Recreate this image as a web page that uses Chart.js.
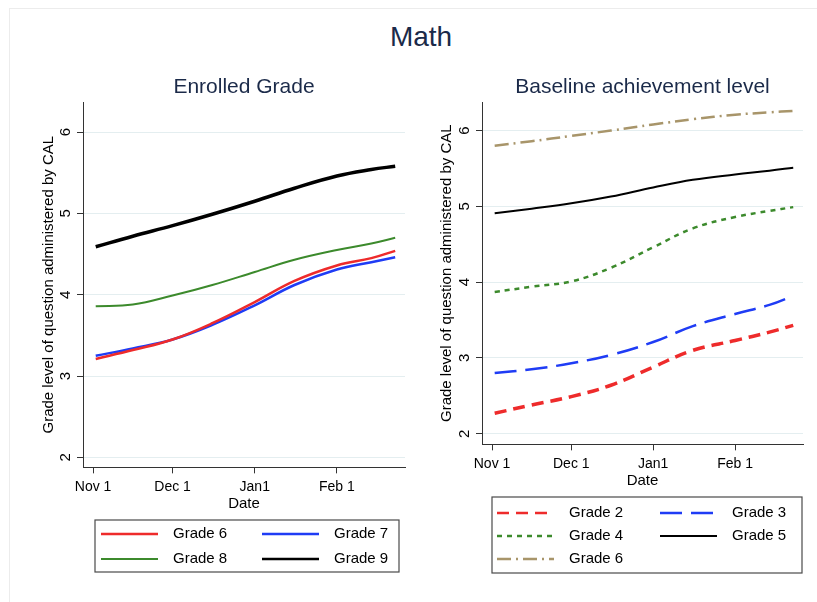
<!DOCTYPE html>
<html>
<head>
<meta charset="utf-8">
<title>Math</title>
<script src="https://cdn.jsdelivr.net/npm/chart.js@4.4.0/dist/chart.umd.min.js"></script>
<style>
body { margin: 0; background: #fff; font-family: "Liberation Sans", Arial, sans-serif; }
#page { position: relative; width: 817px; height: 602px; overflow: hidden; background: #fff; }
#frame { position: absolute; left: 9px; top: 8px; width: 830px; height: 620px; border: 1px solid #ececec; }
#main-title { position: absolute; left: 321px; width: 200px; top: 20px; line-height: 34px; text-align: center; font-size: 28px; color: #1b2a49; }
#left-chart { position: absolute; left: 0; top: 0; }
#right-chart { position: absolute; left: 410px; top: 0; }
</style>
</head>
<body>
<div id="page">
  <div id="frame"></div>
  <div id="main-title">Math</div>
  <canvas id="left-chart" width="410" height="602"></canvas>
  <canvas id="right-chart" width="407" height="602"></canvas>
</div>
<script>
// days since Nov 1
var days = [1, 15, 30, 45, 61, 76, 92, 105, 114];
var tickDays = [0, 30, 61, 92];
var tickNames = ['Nov 1', 'Dec 1', 'Jan1', 'Feb 1'];
var gradeTicks = [2, 3, 4, 5, 6];

// Enrolled Grade panel
var enrolled6 = [3.21, 3.32, 3.45, 3.65, 3.91, 4.17, 4.36, 4.45, 4.54];
var enrolled7 = [3.25, 3.34, 3.45, 3.63, 3.87, 4.12, 4.31, 4.40, 4.46];
var enrolled8 = [3.86, 3.88, 3.99, 4.12, 4.28, 4.43, 4.55, 4.63, 4.70];
var enrolled9 = [4.59, 4.72, 4.85, 4.99, 5.15, 5.31, 5.46, 5.54, 5.58];

// Baseline achievement level panel
var base2 = [2.27, 2.38, 2.49, 2.64, 2.88, 3.10, 3.23, 3.34, 3.43];
var base3 = [2.80, 2.85, 2.93, 3.04, 3.21, 3.42, 3.58, 3.70, 3.82];
var base4 = [3.87, 3.94, 4.01, 4.19, 4.46, 4.71, 4.86, 4.94, 4.99];
var base5 = [4.91, 4.97, 5.04, 5.13, 5.25, 5.35, 5.42, 5.47, 5.51];
var base6 = [5.80, 5.86, 5.93, 6.00, 6.08, 6.15, 6.21, 6.24, 6.26];

var FONT = '"Liberation Sans", Arial, sans-serif';

function pts(vals) {
    return vals.map(function(v, i) { return {x: days[i], y: v}; });
}

// panel title + rotated y tick labels (stata style)
var panelText = {
    id: 'panelText',
    afterDraw: function(chart, args, opts) {
        var ctx = chart.ctx;
        var area = chart.chartArea;
        var yScale = chart.scales.y;
        ctx.save();
        ctx.textAlign = 'center';
        ctx.textBaseline = 'middle';
        ctx.fillStyle = '#1b2a49';
        ctx.font = '21px ' + FONT;
        ctx.fillText(opts.title, (area.left + area.right) / 2, opts.titleY);
        ctx.fillStyle = '#000';
        ctx.font = '15px ' + FONT;
        yScale.ticks.forEach(function(t) {
            var py = yScale.getPixelForValue(t.value);
            ctx.save();
            ctx.translate(area.left - 17, py);
            ctx.rotate(-Math.PI / 2);
            ctx.fillText(String(t.value), 0, 0);
            ctx.restore();
        });
        ctx.restore();
    }
};

// boxed legend in two columns
var boxLegend = {
    id: 'boxLegend',
    afterDraw: function(chart, args, opts) {
        var ctx = chart.ctx;
        ctx.save();
        ctx.strokeStyle = '#4a4a4a';
        ctx.lineWidth = 1.2;
        ctx.strokeRect(opts.left, opts.top, opts.width, opts.height);
        ctx.font = '15px ' + FONT;
        ctx.textBaseline = 'middle';
        ctx.textAlign = 'left';
        ctx.fillStyle = '#000';
        chart.data.datasets.forEach(function(ds, i) {
            var col = i % 2;
            var row = Math.floor(i / 2);
            var x = opts.colX[col];
            var y = opts.firstRow + row * opts.rowGap;
            ctx.save();
            ctx.strokeStyle = ds.borderColor;
            ctx.lineWidth = Math.min(ds.borderWidth, 2.5);
            ctx.setLineDash(ds.borderDash || []);
            ctx.beginPath();
            ctx.moveTo(x, y);
            ctx.lineTo(x + opts.lineLen, y);
            ctx.stroke();
            ctx.restore();
            ctx.fillText(ds.label, x + opts.lineLen + opts.textGap, y);
        });
        ctx.restore();
    }
};

function makeOptions(cfg) {
    return {
        responsive: false,
        animation: false,
        layout: { padding: cfg.padding },
        elements: {
            point: { radius: 0 },
            line: { tension: 0.4, fill: false, capBezierPoints: true }
        },
        scales: {
            x: {
                type: 'linear',
                min: -3.8,
                max: 117.7,
                afterBuildTicks: function(s) {
                    s.ticks = tickDays.map(function(d) { return {value: d}; });
                },
                ticks: {
                    autoSkip: false,
                    maxRotation: 0,
                    padding: 6.4,
                    color: '#000',
                    font: { family: FONT, size: 14, lineHeight: 1 },
                    callback: function(v, i) { return tickNames[i]; }
                },
                grid: { drawOnChartArea: false, drawTicks: true, tickLength: 6, tickColor: '#333' },
                border: { display: true, color: '#333', width: 1 },
                title: { display: true, text: 'Date', color: '#000', font: { family: FONT, size: 15, lineHeight: 0.55 }, padding: { top: 0, bottom: 0 } }
            },
            y: {
                min: cfg.yMin,
                max: cfg.yMax,
                afterBuildTicks: function(s) {
                    s.ticks = gradeTicks.map(function(g) { return {value: g}; });
                },
                ticks: { display: false },
                grid: { color: '#e4eef0', lineWidth: 1, drawTicks: true, tickLength: 6, tickColor: '#333' },
                border: { display: true, color: '#333', width: 1 },
                title: {
                    display: true,
                    text: 'Grade level of question administered by CAL',
                    color: '#000',
                    font: { family: FONT, size: 15 },
                    padding: { top: 10, bottom: cfg.titleGap }
                }
            }
        },
        plugins: {
            legend: { display: false },
            tooltip: { enabled: false },
            panelText: { title: cfg.title, titleY: 87 },
            boxLegend: cfg.legend
        }
    };
}

var leftCtx = document.getElementById('left-chart');
var leftChart = new Chart(leftCtx, {
    type: 'line',
    data: {
        datasets: [
            { label: 'Grade 6', data: pts(enrolled6), borderColor: '#ee2b2b', borderWidth: 2.5 },
            { label: 'Grade 7', data: pts(enrolled7), borderColor: '#1f3cf5', borderWidth: 2.5 },
            { label: 'Grade 8', data: pts(enrolled8), borderColor: '#3c8a2c', borderWidth: 2 },
            { label: 'Grade 9', data: pts(enrolled9), borderColor: '#000000', borderWidth: 3.5 }
        ]
    },
    options: makeOptions({
        title: 'Enrolled Grade',
        yMin: 1.878,
        yMax: 6.37,
        titleGap: 19,
        padding: { left: 30, right: 5, top: 102, bottom: 93.6 },
        legend: { left: 95, top: 520, width: 304, height: 52, colX: [101, 262], firstRow: 534, rowGap: 25, lineLen: 57, textGap: 15 }
    }),
    plugins: [panelText, boxLegend]
});

var rightCtx = document.getElementById('right-chart');
var rightChart = new Chart(rightCtx, {
    type: 'line',
    data: {
        datasets: [
            { label: 'Grade 2', data: pts(base2), borderColor: '#ee2b2b', borderWidth: 3.5, borderDash: [12, 7] },
            { label: 'Grade 3', data: pts(base3), borderColor: '#1f3cf5', borderWidth: 2.5, borderDash: [22, 9] },
            { label: 'Grade 4', data: pts(base4), borderColor: '#3c8a2c', borderWidth: 2.5, borderDash: [5, 5] },
            { label: 'Grade 5', data: pts(base5), borderColor: '#000000', borderWidth: 2 },
            { label: 'Grade 6', data: pts(base6), borderColor: '#a8956a', borderWidth: 2.5, borderDash: [14, 5, 2, 5] }
        ]
    },
    options: makeOptions({
        title: 'Baseline achievement level',
        yMin: 1.86,
        yMax: 6.377,
        titleGap: 20,
        padding: { left: 18, right: 14, top: 102, bottom: 116.6 },
        legend: { left: 82, top: 497, width: 310, height: 76, colX: [87, 250], firstRow: 513, rowGap: 23, lineLen: 57, textGap: 15 }
    }),
    plugins: [panelText, boxLegend]
});
</script>
</body>
</html>
